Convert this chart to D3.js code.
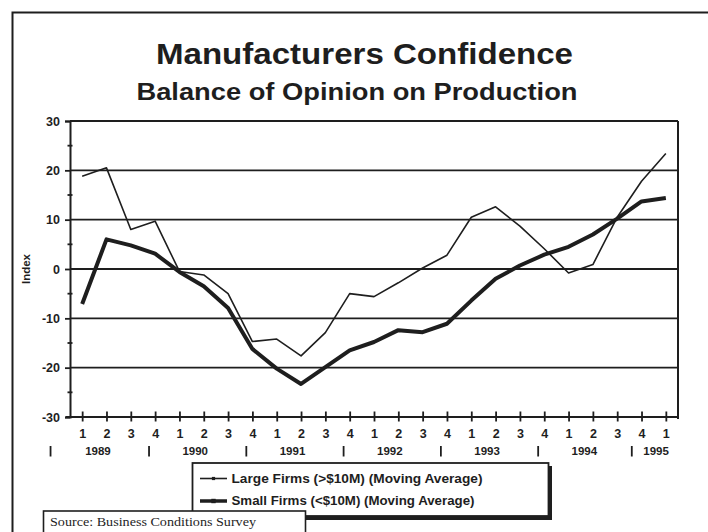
<!DOCTYPE html>
<html>
<head>
<meta charset="utf-8">
<script src="https://cdn.jsdelivr.net/npm/d3@7"></script>
<style>
  html, body { margin: 0; padding: 0; background: #ffffff; }
  svg { display: block; }
  text { font-family: "Liberation Sans", Arial, Helvetica, sans-serif; fill: #1e1e1e; }
  text.note { font-family: "Liberation Serif", "Times New Roman", serif; }
</style>
</head>
<body>
<svg id="chart" width="708" height="532"></svg>
<script>
// Quarterly balance of opinion on production, 1989 Q1 – 1995 Q1
const quarterLabels = ["1","2","3","4","1","2","3","4","1","2","3","4","1","2","3","4",
                       "1","2","3","4","1","2","3","4","1"];
const yearLabels = ["1989","1990","1991","1992","1993","1994","1995"];
const largeFirms = [18.8, 20.5, 8.0, 9.7, -0.5, -1.2, -5.0, -14.7, -14.2, -17.6, -12.9, -5.0,
                    -5.6, -2.8, 0.2, 2.8, 10.5, 12.6, 8.7, 4.1, -0.8, 0.9, 10.5, 17.8, 23.4];
const smallFirms = [-7.1, 6.0, 4.8, 3.1, -0.6, -3.5, -7.9, -16.2, -20.2, -23.3, -19.9, -16.5,
                    -14.8, -12.4, -12.8, -11.1, -6.4, -2.0, 0.7, 2.9, 4.5, 7.0, 10.2, 13.7, 14.4];
const yTicks = [-30, -20, -10, 0, 10, 20, 30];
const seriesNames = ["Large Firms (>$10M) (Moving Average)", "Small Firms (<$10M) (Moving Average)"];

const ink = "#1e1e1e";
const svg = d3.select("#chart");

// Outer frame (top and left rules)
svg.append("path")
  .attr("d", "M12.5,532 V12.5 H708")
  .attr("fill", "none").attr("stroke", ink).attr("stroke-width", 2);

// Titles
svg.append("text")
  .attr("x", 364.5).attr("y", 63.5)
  .attr("text-anchor", "middle")
  .attr("font-size", 29.5).attr("font-weight", "bold")
  .attr("textLength", 417).attr("lengthAdjust", "spacingAndGlyphs")
  .text("Manufacturers Confidence");
svg.append("text")
  .attr("x", 357).attr("y", 100)
  .attr("text-anchor", "middle")
  .attr("font-size", 23.5).attr("font-weight", "bold")
  .attr("textLength", 441).attr("lengthAdjust", "spacingAndGlyphs")
  .text("Balance of Opinion on Production");

// Plot area
const plotLeft = 70, plotRight = 678, plotTop = 121, plotBottom = 417;
const idx = d3.range(quarterLabels.length);
const x = d3.scalePoint().domain(idx).range([plotLeft, plotRight]).padding(0.5);
const y = d3.scaleLinear().domain([-30, 30]).range([plotBottom, plotTop]);

// Horizontal grid lines at every labelled value
svg.append("g").selectAll("line").data(yTicks).join("line")
  .attr("x1", plotLeft).attr("x2", plotRight)
  .attr("y1", d => y(d)).attr("y2", d => y(d))
  .attr("stroke", ink).attr("stroke-width", 1.8);

// Right frame of the plot
svg.append("line")
  .attr("x1", plotRight).attr("x2", plotRight).attr("y1", plotTop).attr("y2", plotBottom + 2)
  .attr("stroke", ink).attr("stroke-width", 2);

// Left axis with outer major ticks and crossing minor ticks
const yAxis = d3.axisLeft(y).tickValues(yTicks).tickSize(5).tickPadding(5).tickFormat(d => String(d));
const gy = svg.append("g").attr("transform", `translate(${plotLeft},0)`).call(yAxis);
gy.select(".domain").attr("stroke", ink).attr("stroke-width", 2);
gy.selectAll(".tick line").attr("stroke", ink).attr("stroke-width", 1.8);
gy.selectAll(".tick text")
  .attr("font-size", 12.5).attr("font-weight", "bold").attr("fill", ink);
svg.append("g").selectAll("line").data(d3.range(-25, 30, 10)).join("line")
  .attr("x1", plotLeft - 2.5).attr("x2", plotLeft + 2.5)
  .attr("y1", d => y(d)).attr("y2", d => y(d))
  .attr("stroke", ink).attr("stroke-width", 1.8);

svg.append("text")
  .attr("transform", `translate(30,${y(0)}) rotate(-90)`)
  .attr("text-anchor", "middle")
  .attr("font-size", 11.5).attr("font-weight", "bold")
  .text("Index");

// Bottom axis: quarter ticks crossing the axis line
const xAxis = d3.axisBottom(x).tickSize(0).tickPadding(12).tickFormat(i => quarterLabels[i]);
const gx = svg.append("g").attr("transform", `translate(0,${plotBottom})`).call(xAxis);
gx.select(".domain").remove();
gx.selectAll(".tick text")
  .attr("font-size", 12.5).attr("font-weight", "bold").attr("fill", ink);
gx.selectAll(".tick").append("line")
  .attr("y1", -5.5).attr("y2", 4.5)
  .attr("stroke", ink).attr("stroke-width", 1.8);
svg.append("line")
  .attr("x1", plotLeft - 4).attr("x2", plotRight + 1).attr("y1", plotBottom).attr("y2", plotBottom)
  .attr("stroke", ink).attr("stroke-width", 2);

// Year row: labels with bar separators, offset in quarters from each year's Q1
const step = x.step();
const yearX = (k) => x(0) + step * Math.min(4 * k + 0.65, 23.6);
const sepX = (k) => x(0) + step * (k === 0 ? -1.3 : Math.min(4 * k - 1.25, 22.6));
svg.append("g").selectAll("text").data(yearLabels).join("text")
  .attr("x", (d, k) => yearX(k)).attr("y", 455)
  .attr("text-anchor", "middle")
  .attr("font-size", 11.5).attr("font-weight", "bold")
  .text(d => d);
svg.append("g").selectAll("line").data(yearLabels).join("line")
  .attr("x1", (d, k) => sepX(k)).attr("x2", (d, k) => sepX(k))
  .attr("y1", 446).attr("y2", 456.5)
  .attr("stroke", ink).attr("stroke-width", 1.8);

// Series lines
const line = d3.line().x((d, i) => x(i)).y(d => y(d));
svg.append("path").datum(largeFirms)
  .attr("d", line).attr("fill", "none")
  .attr("stroke", ink).attr("stroke-width", 1.6).attr("stroke-linejoin", "round");
svg.append("path").datum(smallFirms)
  .attr("d", line).attr("fill", "none")
  .attr("stroke", ink).attr("stroke-width", 4).attr("stroke-linejoin", "round");

// Legend with drop shadow
const lg = svg.append("g");
lg.append("rect").attr("x", 195).attr("y", 466).attr("width", 357).attr("height", 54).attr("fill", ink);
lg.append("rect").attr("x", 192.5).attr("y", 463).attr("width", 356).attr("height", 53)
  .attr("fill", "#ffffff").attr("stroke", ink).attr("stroke-width", 1.8);
const legendRows = [
  { name: seriesNames[0], w: 1.6, r: 1.6, yy: 478.5, len: 251 },
  { name: seriesNames[1], w: 3.5, r: 2.2, yy: 501, len: 243 }
];
legendRows.forEach(row => {
  lg.append("line").attr("x1", 200).attr("x2", 227).attr("y1", row.yy).attr("y2", row.yy)
    .attr("stroke", ink).attr("stroke-width", row.w);
  lg.append("rect").attr("x", 213.5 - row.r).attr("y", row.yy - row.r)
    .attr("width", row.r * 2).attr("height", row.r * 2).attr("fill", ink);
  lg.append("text").attr("x", 231.5).attr("y", row.yy + 4.3)
    .attr("font-size", 12).attr("font-weight", "bold")
    .attr("textLength", row.len).attr("lengthAdjust", "spacingAndGlyphs")
    .text(row.name);
});

// Source note box
svg.append("rect").attr("x", 43.5).attr("y", 511).attr("width", 262).attr("height", 30)
  .attr("fill", "#ffffff").attr("stroke", ink).attr("stroke-width", 1.6);
svg.append("text").attr("class", "note").attr("x", 50).attr("y", 526)
  .attr("font-size", 13)
  .attr("textLength", 206).attr("lengthAdjust", "spacingAndGlyphs")
  .text("Source: Business Conditions Survey");
</script>
</body>
</html>
